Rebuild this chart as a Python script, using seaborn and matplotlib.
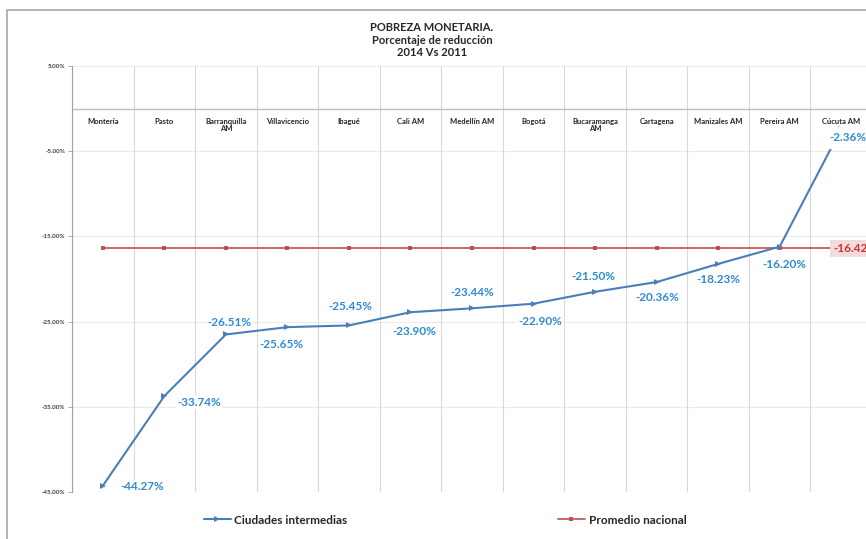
import pandas as pd
import numpy as np
import matplotlib.pyplot as plt
import matplotlib.patches as mpatches
import matplotlib.transforms as mtransforms
import seaborn as sns

cities = ["Montería", "Pasto", "Barranquilla\nAM", "Villavicencio", "Ibagué", "Cali AM",
          "Medellín AM", "Bogotá", "Bucaramanga\nAM", "Cartagena", "Manizales AM",
          "Pereira AM", "Cúcuta AM"]
reduccion = [-44.27, -33.74, -26.51, -25.65, -25.45, -23.90, -23.44, -22.90,
             -21.50, -20.36, -18.23, -16.20, -2.36]
promedio = -16.42
yticks = [5, -5, -15, -25, -35, -45]

# label offsets in pixels (dx, dy) relative to each point
label_off = [(39, -1), (35, -6), (4, 12), (-6, -17), (1, 19), (4, -19), (0, 16),
             (7, -18), (-2, 15), (1, -15), (0, -16), (5, -18), (7, -9)]

sns.set_style("white")
plt.rcParams["font.family"] = ["Lato", "DejaVu Sans"]

blue = "#4A7EBB"
red = "#C0504D"
lblue = "#2F8AD3"

df = pd.DataFrame({"x": np.arange(len(cities)), "ciudades": reduccion,
                   "promedio": [promedio] * len(cities)})

fig = plt.figure(figsize=(8.66, 5.39), dpi=100)
W, H = 866, 539
ax = fig.add_axes([72 / W, 1 - 492 / H, 800 / W, 426 / H])

# grid
for v in yticks:
    ax.axhline(v, color="#EBEBEB", lw=0.8, zorder=0)
for i in range(len(cities) + 1):
    ax.axvline(i - 0.5, color="#D9D9D9", lw=0.8, zorder=0)
ax.axhline(0, color="#BFBFBF", lw=1.0, zorder=1)

sns.lineplot(data=df, x="x", y="promedio", ax=ax, color=red, lw=1.2,
             marker="s", markersize=2.2, markeredgewidth=0, label="Promedio nacional",
             legend=False, zorder=2)
sns.lineplot(data=df, x="x", y="ciudades", ax=ax, color=blue, lw=1.5,
             marker=">", markersize=4, markeredgewidth=0, label="Ciudades intermedias",
             legend=False, zorder=3)

for i, (v, off) in enumerate(zip(reduccion, label_off)):
    pad = 0.45 if i == len(cities) - 1 else 0.1
    ax.annotate(f"{v:.2f}%", (i, v), xytext=off, textcoords="offset pixels",
                ha="center", va="center", fontsize=8.5, fontweight="bold", color=lblue,
                bbox=dict(boxstyle=f"square,pad={pad}", fc="white", ec="none"), zorder=5)

ax.annotate(f"{promedio:.2f}%", (len(cities) - 1, promedio), xytext=(-8, 0),
            textcoords="offset pixels", ha="left", va="center", fontsize=8.5,
            fontweight="bold", color="#D0312D",
            bbox=dict(boxstyle="square,pad=0.25", fc="#F2DCDB", ec="none"), zorder=5)

shift = mtransforms.ScaledTranslation(0, -0.09, fig.dpi_scale_trans)
for i, c in enumerate(cities):
    ax.text(i, 0, c, transform=ax.transData + shift, ha="center", va="top",
            fontsize=5.5, fontweight="bold", color="#262626", linespacing=1.1)

ax.set_xlim(-0.5, len(cities) - 0.5)
ax.set_ylim(-45, 5)
ax.set_yticks(yticks)
ax.set_yticklabels([f"{v:.2f}%" for v in yticks], fontsize=4.5, fontweight="bold",
                   color="#404040")
ax.set_xticks([])
ax.set_xlabel("")
ax.set_ylabel("")
ax.tick_params(axis="y", length=3, width=0.6, color="#A0A0A0", left=True, pad=2)
for s in ["top", "right", "bottom"]:
    ax.spines[s].set_visible(False)
ax.spines["left"].set_color("#A0A0A0")
ax.spines["left"].set_linewidth(0.8)

fig.text(432 / W, 1 - 40 / H, "POBREZA MONETARIA.\nPorcentaje de reducción\n2014 Vs 2011",
         ha="center", va="center", fontsize=8, fontweight="bold", linespacing=1.15)

# chart frame
fig.patches.append(mpatches.Rectangle((7 / W, -0.1), 1.1, 1 - 10 / H + 0.1,
                                      transform=fig.transFigure, fill=False,
                                      ec="#A6A6A6", lw=1.2))

h, l = ax.get_legend_handles_labels()
order = [l.index("Ciudades intermedias"), l.index("Promedio nacional")]
fig.legend([h[k] for k in order], [l[k] for k in order], ncol=2, loc="center",
           bbox_to_anchor=(445 / W, 1 - 520 / H), frameon=False, handlelength=2.3,
           columnspacing=17.8, handletextpad=0.3,
           prop={"size": 8.5, "weight": "bold"})

fig.savefig("out.png", dpi=100)
